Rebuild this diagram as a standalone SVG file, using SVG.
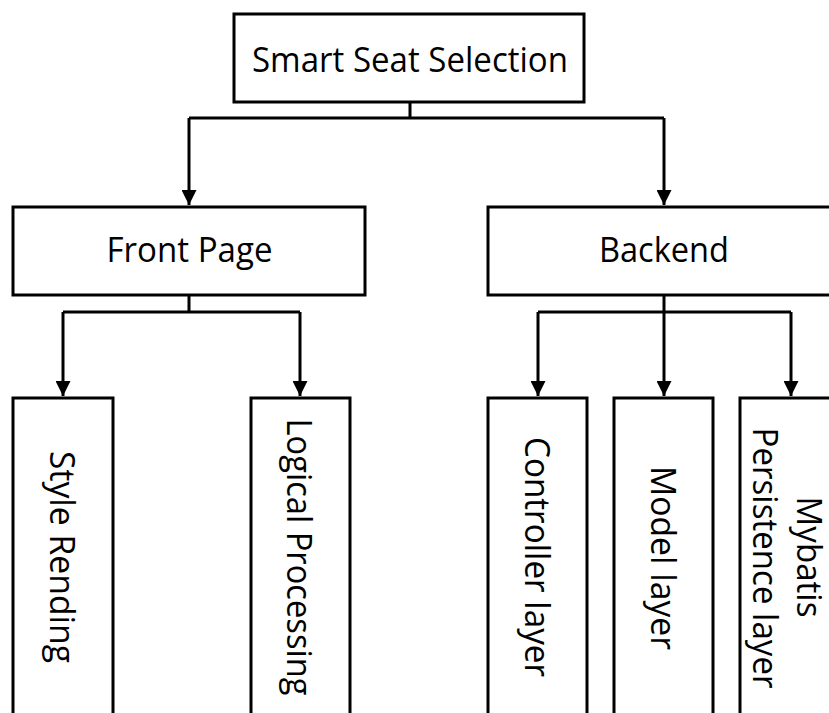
<svg xmlns="http://www.w3.org/2000/svg" width="829" height="713" viewBox="0 0 829 713">
<style>
  .box { fill: #ffffff; stroke: #000000; stroke-width: 3; }
  .lbl { font-family: "Open Sans", "Liberation Sans", sans-serif; font-size: 34px; fill: #000000; text-anchor: middle; }
  .conn { fill: none; stroke: #000000; stroke-width: 3; }
</style>
<defs>
  <marker id="arrow" markerUnits="userSpaceOnUse" markerWidth="15" markerHeight="15" refX="15" refY="7.5" orient="auto" viewBox="0 0 15 15">
    <path d="M0,0 L15,7.5 L0,15 z" fill="#000000"/>
  </marker>
</defs>
<rect width="829" height="713" fill="#ffffff"/>
<g id="connectors">
  <path class="conn" d="M410,102 V118 M189,118 H664"/>
  <path class="conn" d="M189,118 V205" marker-end="url(#arrow)"/>
  <path class="conn" d="M664,118 V205" marker-end="url(#arrow)"/>
  <path class="conn" d="M189,295 V312 M63,312 H300"/>
  <path class="conn" d="M63,312 V396" marker-end="url(#arrow)"/>
  <path class="conn" d="M300,312 V396" marker-end="url(#arrow)"/>
  <path class="conn" d="M538,312 H791"/>
  <path class="conn" d="M664,295 V396" marker-end="url(#arrow)"/>
  <path class="conn" d="M538,312 V396" marker-end="url(#arrow)"/>
  <path class="conn" d="M791,312 V396" marker-end="url(#arrow)"/>
</g>
<g id="smart-seat-selection">
  <rect class="box" x="234" y="14" width="350" height="88"/>
  <text class="lbl" x="410" y="72" textLength="316" lengthAdjust="spacingAndGlyphs">Smart Seat Selection</text>
</g>
<g id="front-page">
  <rect class="box" x="13" y="207" width="352" height="88"/>
  <text class="lbl" x="189.5" y="262" textLength="166" lengthAdjust="spacingAndGlyphs">Front Page</text>
</g>
<g id="backend">
  <rect class="box" x="488" y="207" width="352" height="88"/>
  <text class="lbl" x="664" y="262" textLength="130" lengthAdjust="spacingAndGlyphs">Backend</text>
</g>
<g id="style-rending">
  <rect class="box" x="13" y="398" width="100" height="340"/>
  <text class="lbl" x="50" y="557" transform="rotate(90 50 557)" textLength="212" lengthAdjust="spacingAndGlyphs">Style Rending</text>
</g>
<g id="logical-processing">
  <rect class="box" x="251" y="398" width="99" height="340"/>
  <text class="lbl" x="287" y="557" transform="rotate(90 287 557)" textLength="277" lengthAdjust="spacingAndGlyphs">Logical Processing</text>
</g>
<g id="controller-layer">
  <rect class="box" x="488" y="398" width="99" height="340"/>
  <text class="lbl" x="525" y="557" transform="rotate(90 525 557)" textLength="240" lengthAdjust="spacingAndGlyphs">Controller layer</text>
</g>
<g id="model-layer">
  <rect class="box" x="614" y="398" width="99" height="340"/>
  <text class="lbl" x="651" y="558" transform="rotate(90 651 558)" textLength="184" lengthAdjust="spacingAndGlyphs">Model layer</text>
</g>
<g id="mybatis-persistence-layer">
  <rect class="box" x="740" y="398" width="102" height="340"/>
  <text class="lbl" x="797" y="557" transform="rotate(90 797 557)" textLength="121" lengthAdjust="spacingAndGlyphs">Mybatis</text>
  <text class="lbl" x="753" y="558" transform="rotate(90 753 558)" textLength="261" lengthAdjust="spacingAndGlyphs">Persistence layer</text>
</g>
</svg>
